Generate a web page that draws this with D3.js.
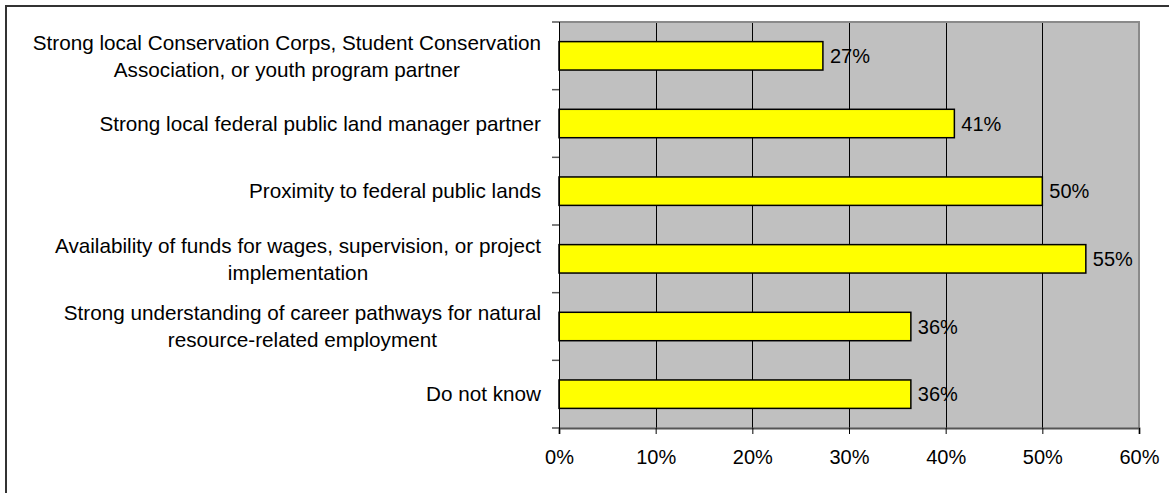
<!DOCTYPE html>
<html>
<head>
<meta charset="utf-8">
<script src="https://cdn.jsdelivr.net/npm/d3@7"></script>
<style>
  html, body { margin: 0; padding: 0; background: #fff; }
  svg { display: block; }
  text { font-family: "Liberation Sans", Arial, sans-serif; fill: #000; }
</style>
</head>
<body>
<svg id="chart" width="1169" height="493"></svg>
<script>
// Survey responses: share of respondents naming each factor
const categories = [
  ["Strong local Conservation Corps, Student Conservation", "Association, or youth program partner"],
  ["Strong local federal public land manager partner"],
  ["Proximity to federal public lands"],
  ["Availability of funds for wages, supervision, or project", "implementation"],
  ["Strong understanding of career pathways for natural", "resource-related employment"],
  ["Do not know"]
];
const values = [27.3, 40.9, 50.0, 54.5, 36.4, 36.4];   // percent
const xTicks = [0, 10, 20, 30, 40, 50, 60];

const svg = d3.select("#chart");
const plot = { left: 559, right: 1139, top: 22, bottom: 428 };
const fontSize = 20;
const catFontSize = 20.7;

// outer frame
svg.append("rect")
  .attr("x", 6).attr("y", 6).attr("width", 1190).attr("height", 520)
  .attr("fill", "none").attr("stroke", "#333").attr("stroke-width", 2);

const x = d3.scaleLinear().domain([0, 60]).range([plot.left, plot.right]);
const y = d3.scaleBand().domain(d3.range(categories.length))
  .range([plot.top, plot.bottom]).paddingInner(0.58).paddingOuter(0.29);
const bandStep = y.step();

// plot background
svg.append("rect")
  .attr("x", plot.left).attr("y", plot.top)
  .attr("width", plot.right - plot.left).attr("height", plot.bottom - plot.top)
  .attr("fill", "#c0c0c0");

// vertical gridlines
svg.append("g").selectAll("line")
  .data(xTicks.filter(t => t > 0 && t < 60))
  .join("line")
  .attr("x1", d => Math.round(x(d)) + 0.5).attr("x2", d => Math.round(x(d)) + 0.5)
  .attr("y1", plot.top).attr("y2", plot.bottom)
  .attr("stroke", "#000").attr("stroke-width", 1);

// plot border top / right
svg.append("path")
  .attr("d", `M${plot.left},${plot.top} H${plot.right} V${plot.bottom}`)
  .attr("fill", "none").attr("stroke", "#8a8a8a").attr("stroke-width", 2);

// bars
svg.append("g").selectAll("rect")
  .data(values)
  .join("rect")
  .attr("x", x(0))
  .attr("y", (d, i) => y(i))
  .attr("width", d => x(d) - x(0))
  .attr("height", y.bandwidth())
  .attr("fill", "#ffff00")
  .attr("stroke", "#000").attr("stroke-width", 1.5);

// value labels
svg.append("g").selectAll("text")
  .data(values)
  .join("text")
  .attr("x", d => x(d) + 7)
  .attr("y", (d, i) => y(i) + y.bandwidth() / 2)
  .attr("dy", "0.35em")
  .attr("font-size", fontSize)
  .text(d => Math.round(d) + "%");

// x axis
const xAxis = d3.axisBottom(x).tickValues(xTicks).tickSize(6).tickPadding(16)
  .tickFormat(d => d + "%");
const gx = svg.append("g").attr("transform", `translate(0,${plot.bottom})`).call(xAxis);
gx.select(".domain").attr("stroke", "#555").attr("stroke-width", 2);
gx.selectAll(".tick line").attr("stroke", "#000");
gx.selectAll(".tick text").attr("font-size", fontSize)
  .attr("font-family", "Liberation Sans, Arial, sans-serif").attr("fill", "#000");

// y axis line and ticks at band boundaries
svg.append("line")
  .attr("x1", plot.left + 0.5).attr("x2", plot.left + 0.5)
  .attr("y1", plot.top).attr("y2", plot.bottom + 6)
  .attr("stroke", "#000");
svg.append("g").selectAll("line")
  .data(d3.range(categories.length + 1))
  .join("line")
  .attr("x1", plot.left - 7).attr("x2", plot.left)
  .attr("y1", i => plot.top + i * bandStep).attr("y2", i => plot.top + i * bandStep)
  .attr("stroke", "#555").attr("stroke-width", 1.5);

// category labels (centred lines, right edge aligned)
const lineH = 27;
const labels = svg.append("g").selectAll("g")
  .data(categories)
  .join("g")
  .attr("transform", (d, i) => `translate(541,${y(i) + y.bandwidth() / 2})`);

labels.each(function (lines) {
  const g = d3.select(this);
  const t = g.append("text").attr("font-size", catFontSize).attr("text-anchor", "middle");
  lines.forEach((ln, k) => {
    t.append("tspan").text(ln)
      .attr("y", (k - (lines.length - 1) / 2) * lineH)
      .attr("dy", "0.35em");
  });
  const widths = t.selectAll("tspan").nodes().map(s => s.getComputedTextLength());
  const maxW = d3.max(widths);
  t.selectAll("tspan").attr("x", -maxW / 2);
});
</script>
</body>
</html>
